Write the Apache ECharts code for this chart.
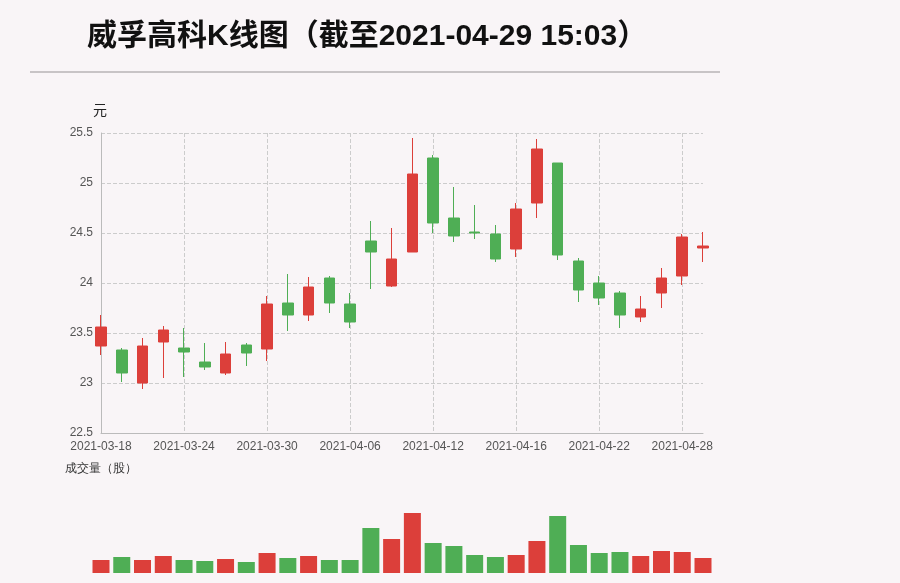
<!DOCTYPE html>
<html><head><meta charset="utf-8">
<script src="https://cdn.jsdelivr.net/npm/echarts@6/dist/echarts.min.js"></script>
<style>html,body{margin:0;background:#f9f5f7}#c{width:900px;height:583px}</style>
</head><body><div id="c"></div>
<script>
// K线数据：开盘、收盘、最低、最高
const dates = ['2021-03-18','2021-03-19','2021-03-22','2021-03-23','2021-03-24','2021-03-25','2021-03-26','2021-03-29','2021-03-30','2021-03-31',
  '2021-04-01','2021-04-02','2021-04-06','2021-04-07','2021-04-08','2021-04-09','2021-04-12','2021-04-13','2021-04-14','2021-04-15',
  '2021-04-16','2021-04-19','2021-04-20','2021-04-21','2021-04-22','2021-04-23','2021-04-26','2021-04-27','2021-04-28','2021-04-29'];
const opens  = [23.37,23.33,23.00,23.41,23.35,23.21,23.10,23.38,23.34,23.80,23.68,24.05,23.79,24.42,23.97,24.31,25.25,24.65,24.51,24.49,24.34,24.80,25.20,24.22,24.00,23.90,23.66,23.90,24.07,24.35];
const closes = [23.56,23.10,23.37,23.53,23.31,23.16,23.29,23.30,23.79,23.68,23.96,23.80,23.61,24.31,24.24,25.09,24.60,24.47,24.50,24.24,24.74,25.34,24.28,23.93,23.85,23.68,23.74,24.05,24.46,24.37];
const lows   = [23.28,23.01,22.94,23.05,23.06,23.13,23.08,23.17,23.22,23.52,23.62,23.70,23.55,23.94,23.96,24.31,24.50,24.41,24.44,24.21,24.26,24.65,24.23,23.81,23.78,23.55,23.61,23.75,23.98,24.21];
const highs  = [23.68,23.35,23.45,23.57,23.55,23.40,23.41,23.40,23.87,24.09,24.06,24.07,23.90,24.62,24.55,25.45,25.28,24.96,24.78,24.58,24.80,25.44,25.20,24.25,24.07,23.92,23.87,24.15,24.49,24.51];
const volumes = [13,16,13,17,13,12,14,11,20,15,17,13,13,45,34,60,30,27,18,16,18,32,57,28,20,21,17,22,21,15];

const UP = '#dc3f3a', DOWN = '#4fae55';

const chart = echarts.init(document.getElementById('c'));
const kData = dates.map((d, i) => [opens[i], closes[i], lows[i], highs[i]]);
const volData = volumes.map((v, i) => ({
  value: v,
  itemStyle: { color: closes[i] >= opens[i] ? UP : DOWN }
}));

chart.setOption({
  backgroundColor: '#f9f5f7',
  textStyle: { fontFamily: 'Arial, "Noto Sans CJK SC", sans-serif' },
  title: {
    text: '威孚高科K线图（截至2021-04-29 15:03）',
    left: 82, top: 17,
    textStyle: { fontSize: 30, fontWeight: 'bold', color: '#111' }
  },
  graphic: [
    { type: 'line', shape: { x1: 30, y1: 72, x2: 720, y2: 72 }, style: { stroke: '#c8c4c6', lineWidth: 2 } },
    { type: 'text', left: 65, top: 463, style: { text: '成交量（股）', fontSize: 12, fill: '#333' } }
  ],
  grid: [
    { left: 101, right: 197, top: 133, bottom: 150 },
    { left: 101, right: 197, top: 490, bottom: 10 }
  ],
  xAxis: [
    {
      type: 'category', data: dates, boundaryGap: false, gridIndex: 0,
      axisLine: { lineStyle: { color: '#bbb' } },
      axisTick: { show: false },
      axisLabel: { interval: 3, color: '#555', fontSize: 12 },
      splitLine: { show: true, interval: 3, lineStyle: { type: 'dashed', color: '#ccc' } }
    },
    {
      type: 'category', data: dates, boundaryGap: false, gridIndex: 1,
      axisLine: { show: false }, axisTick: { show: false }, axisLabel: { show: false }
    }
  ],
  yAxis: [
    {
      type: 'value', gridIndex: 0, min: 22.5, max: 25.5, interval: 0.5,
      name: '元', nameGap: 15, nameTextStyle: { color: '#222', fontSize: 14, align: 'left', padding: [0, 0, 0, -8] },
      axisLine: { show: true, lineStyle: { color: '#bbb' } },
      axisLabel: { color: '#555', fontSize: 12 },
      splitLine: { lineStyle: { type: 'dashed', color: '#ccc' } }
    },
    {
      type: 'value', gridIndex: 1, min: 0, max: 83, show: false
    }
  ],
  series: [
    {
      type: 'candlestick', data: kData, barWidth: 11,
      itemStyle: { color: UP, color0: DOWN, borderColor: UP, borderColor0: DOWN }
    },
    {
      type: 'bar', data: volData, xAxisIndex: 1, yAxisIndex: 1, barWidth: 17
    }
  ]
});
</script>
</body></html>
